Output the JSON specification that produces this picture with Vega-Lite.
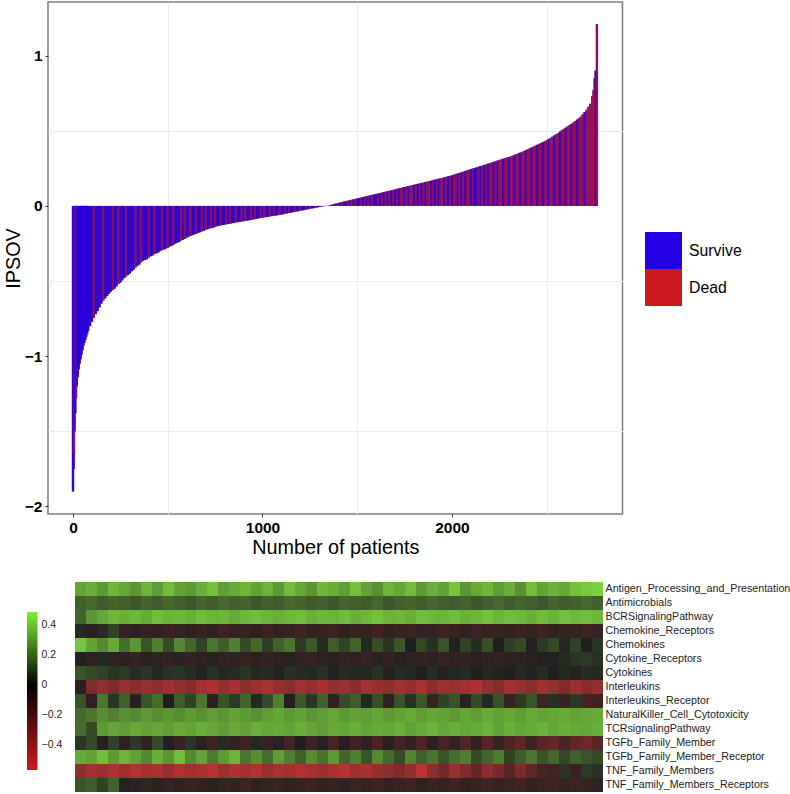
{"$schema":"https://vega.github.io/schema/vega-lite/v6.json","padding":{"left":2,"top":1,"right":0,"bottom":0},"background":"white","bounds":"flush","spacing":68,"config":{"font":"Liberation Sans","view":{"stroke":null}},
"datasets":{"bars":[
{"n":0,"v":-1.9,"s":"S"},{"n":3,"v":-1.75,"s":"S"},{"n":5,"v":-1.65,"s":"D"},{"n":8,"v":-1.5,"s":"S"},{"n":12,"v":-1.38,"s":"S"},{"n":16,"v":-1.28,"s":"D"},{"n":20,"v":-1.2,"s":"S"},{"n":25,"v":-1.14,"s":"S"},{"n":30,"v":-1.09,"s":"S"},{"n":35,"v":-1.05,"s":"S"},{"n":40,"v":-1.02,"s":"S"},{"n":45,"v":-0.99,"s":"S"},{"n":50,"v":-0.96,"s":"S"},{"n":55,"v":-0.93,"s":"S"},{"n":60,"v":-0.91,"s":"S"},{"n":65,"v":-0.89,"s":"S"},{"n":70,"v":-0.87,"s":"S"},{"n":75,"v":-0.85,"s":"S"},{"n":80,"v":-0.83,"s":"S"},{"n":90,"v":-0.8,"s":"S"},
{"n":100,"v":-0.77,"s":"S"},{"n":110,"v":-0.745,"s":"D"},{"n":120,"v":-0.72,"s":"S"},{"n":130,"v":-0.7,"s":"S"},{"n":140,"v":-0.675,"s":"S"},{"n":150,"v":-0.65,"s":"S"},{"n":160,"v":-0.63,"s":"D"},{"n":170,"v":-0.615,"s":"S"},{"n":180,"v":-0.6,"s":"S"},{"n":190,"v":-0.585,"s":"S"},{"n":200,"v":-0.57,"s":"S"},{"n":210,"v":-0.56,"s":"D"},{"n":220,"v":-0.55,"s":"S"},{"n":230,"v":-0.535,"s":"S"},{"n":240,"v":-0.52,"s":"D"},{"n":250,"v":-0.51,"s":"S"},{"n":260,"v":-0.495,"s":"S"},{"n":270,"v":-0.48,"s":"S"},{"n":280,"v":-0.47,"s":"D"},{"n":290,"v":-0.46,"s":"S"},{"n":300,"v":-0.45,"s":"S"},{"n":310,"v":-0.435,"s":"S"},{"n":320,"v":-0.425,"s":"S"},{"n":330,"v":-0.41,"s":"D"},{"n":340,"v":-0.4,"s":"S"},{"n":350,"v":-0.39,"s":"S"},{"n":360,"v":-0.375,"s":"D"},{"n":370,"v":-0.365,"s":"S"},{"n":380,"v":-0.36,"s":"S"},{"n":390,"v":-0.355,"s":"S"},{"n":400,"v":-0.345,"s":"D"},{"n":410,"v":-0.335,"s":"S"},{"n":420,"v":-0.33,"s":"S"},{"n":430,"v":-0.32,"s":"D"},{"n":440,"v":-0.315,"s":"S"},{"n":450,"v":-0.31,"s":"S"},{"n":460,"v":-0.3,"s":"S"},{"n":470,"v":-0.295,"s":"D"},{"n":480,"v":-0.29,"s":"S"},{"n":490,"v":-0.285,"s":"S"},{"n":500,"v":-0.28,"s":"D"},{"n":510,"v":-0.27,"s":"S"},{"n":520,"v":-0.265,"s":"S"},{"n":530,"v":-0.26,"s":"D"},{"n":540,"v":-0.25,"s":"S"},{"n":550,"v":-0.245,"s":"S"},{"n":560,"v":-0.24,"s":"S"},{"n":570,"v":-0.23,"s":"D"},{"n":580,"v":-0.225,"s":"S"},{"n":590,"v":-0.22,"s":"D"},{"n":600,"v":-0.21,"s":"S"},{"n":610,"v":-0.205,"s":"S"},{"n":620,"v":-0.2,"s":"D"},{"n":630,"v":-0.195,"s":"S"},{"n":640,"v":-0.19,"s":"S"},{"n":650,"v":-0.185,"s":"D"},{"n":660,"v":-0.18,"s":"S"},{"n":670,"v":-0.175,"s":"S"},{"n":680,"v":-0.17,"s":"D"},{"n":690,"v":-0.165,"s":"S"},{"n":700,"v":-0.16,"s":"D"},{"n":710,"v":-0.155,"s":"S"},{"n":720,"v":-0.15,"s":"S"},{"n":730,"v":-0.148,"s":"D"},{"n":740,"v":-0.145,"s":"S"},{"n":750,"v":-0.14,"s":"D"},{"n":760,"v":-0.135,"s":"S"},{"n":770,"v":-0.132,"s":"S"},{"n":780,"v":-0.13,"s":"D"},{"n":790,"v":-0.127,"s":"S"},{"n":800,"v":-0.125,"s":"S"},{"n":810,"v":-0.122,"s":"D"},{"n":820,"v":-0.12,"s":"S"},{"n":830,"v":-0.118,"s":"D"},{"n":840,"v":-0.115,"s":"S"},{"n":850,"v":-0.113,"s":"S"},{"n":860,"v":-0.11,"s":"D"},{"n":870,"v":-0.108,"s":"S"},{"n":880,"v":-0.106,"s":"S"},{"n":890,"v":-0.104,"s":"D"},{"n":900,"v":-0.102,"s":"S"},{"n":910,"v":-0.1,"s":"D"},{"n":920,"v":-0.098,"s":"S"},{"n":930,"v":-0.095,"s":"S"},{"n":940,"v":-0.093,"s":"D"},{"n":950,"v":-0.09,"s":"S"},{"n":960,"v":-0.088,"s":"D"},{"n":970,"v":-0.085,"s":"S"},{"n":980,"v":-0.083,"s":"S"},{"n":990,"v":-0.08,"s":"D"},{"n":1000,"v":-0.078,"s":"S"},{"n":1010,"v":-0.076,"s":"D"},{"n":1020,"v":-0.074,"s":"S"},{"n":1030,"v":-0.072,"s":"S"},{"n":1040,"v":-0.07,"s":"D"},{"n":1050,"v":-0.068,"s":"S"},{"n":1060,"v":-0.066,"s":"D"},{"n":1070,"v":-0.064,"s":"S"},{"n":1080,"v":-0.062,"s":"S"},{"n":1090,"v":-0.06,"s":"D"},{"n":1100,"v":-0.058,"s":"S"},{"n":1110,"v":-0.055,"s":"S"},{"n":1120,"v":-0.052,"s":"D"},{"n":1130,"v":-0.05,"s":"S"},{"n":1140,"v":-0.047,"s":"D"},{"n":1150,"v":-0.045,"s":"S"},{"n":1160,"v":-0.042,"s":"S"},{"n":1170,"v":-0.04,"s":"D"},{"n":1180,"v":-0.037,"s":"S"},{"n":1190,"v":-0.035,"s":"S"},{"n":1200,"v":-0.032,"s":"D"},{"n":1210,"v":-0.03,"s":"S"},{"n":1220,"v":-0.027,"s":"S"},{"n":1230,"v":-0.025,"s":"D"},{"n":1240,"v":-0.022,"s":"S"},{"n":1250,"v":-0.02,"s":"D"},{"n":1260,"v":-0.017,"s":"S"},{"n":1270,"v":-0.015,"s":"S"},{"n":1280,"v":-0.012,"s":"D"},{"n":1290,"v":-0.01,"s":"S"},{"n":1300,"v":-0.007,"s":"S"},{"n":1310,"v":-0.005,"s":"D"},{"n":1320,"v":-0.003,"s":"S"},{"n":1330,"v":-0.001,"s":"S"},{"n":1340,"v":0.001,"s":"S"},{"n":1350,"v":0.003,"s":"D"},{"n":1360,"v":0.006,"s":"S"},{"n":1370,"v":0.01,"s":"S"},{"n":1380,"v":0.014,"s":"D"},{"n":1390,"v":0.017,"s":"S"},{"n":1400,"v":0.02,"s":"D"},{"n":1410,"v":0.023,"s":"S"},{"n":1420,"v":0.026,"s":"D"},{"n":1430,"v":0.029,"s":"S"},{"n":1440,"v":0.032,"s":"S"},{"n":1450,"v":0.035,"s":"D"},{"n":1460,"v":0.038,"s":"S"},{"n":1470,"v":0.041,"s":"D"},{"n":1480,"v":0.044,"s":"S"},{"n":1490,"v":0.047,"s":"D"},{"n":1500,"v":0.05,"s":"S"},{"n":1510,"v":0.053,"s":"S"},{"n":1520,"v":0.056,"s":"D"},{"n":1530,"v":0.059,"s":"S"},{"n":1540,"v":0.062,"s":"D"},{"n":1550,"v":0.065,"s":"S"},{"n":1560,"v":0.068,"s":"D"},{"n":1570,"v":0.071,"s":"S"},{"n":1580,"v":0.074,"s":"D"},{"n":1590,"v":0.077,"s":"S"},{"n":1600,"v":0.08,"s":"S"},{"n":1610,"v":0.083,"s":"D"},{"n":1620,"v":0.086,"s":"S"},{"n":1630,"v":0.089,"s":"D"},{"n":1640,"v":0.092,"s":"S"},{"n":1650,"v":0.095,"s":"D"},{"n":1660,"v":0.098,"s":"S"},{"n":1670,"v":0.101,"s":"D"},{"n":1680,"v":0.104,"s":"S"},{"n":1690,"v":0.107,"s":"D"},{"n":1700,"v":0.11,"s":"S"},{"n":1710,"v":0.114,"s":"D"},{"n":1720,"v":0.117,"s":"S"},{"n":1730,"v":0.12,"s":"D"},{"n":1740,"v":0.123,"s":"D"},{"n":1750,"v":0.126,"s":"S"},{"n":1760,"v":0.129,"s":"D"},{"n":1770,"v":0.132,"s":"S"},{"n":1780,"v":0.135,"s":"D"},{"n":1790,"v":0.138,"s":"D"},{"n":1800,"v":0.141,"s":"S"},{"n":1810,"v":0.144,"s":"D"},{"n":1820,"v":0.147,"s":"S"},{"n":1830,"v":0.15,"s":"D"},{"n":1840,"v":0.153,"s":"S"},{"n":1850,"v":0.156,"s":"D"},{"n":1860,"v":0.159,"s":"S"},{"n":1870,"v":0.162,"s":"D"},{"n":1880,"v":0.165,"s":"D"},{"n":1890,"v":0.168,"s":"S"},{"n":1900,"v":0.172,"s":"D"},{"n":1910,"v":0.175,"s":"S"},{"n":1920,"v":0.178,"s":"D"},{"n":1930,"v":0.181,"s":"S"},{"n":1940,"v":0.184,"s":"D"},{"n":1950,"v":0.187,"s":"D"},{"n":1960,"v":0.19,"s":"S"},{"n":1970,"v":0.194,"s":"D"},{"n":1980,"v":0.197,"s":"S"},{"n":1990,"v":0.2,"s":"D"},{"n":2000,"v":0.204,"s":"S"},{"n":2010,"v":0.208,"s":"D"},{"n":2020,"v":0.212,"s":"D"},{"n":2030,"v":0.216,"s":"S"},{"n":2040,"v":0.22,"s":"D"},{"n":2050,"v":0.224,"s":"S"},{"n":2060,"v":0.228,"s":"D"},{"n":2070,"v":0.233,"s":"S"},{"n":2080,"v":0.237,"s":"D"},{"n":2090,"v":0.241,"s":"D"},{"n":2100,"v":0.245,"s":"S"},{"n":2110,"v":0.249,"s":"D"},{"n":2120,"v":0.253,"s":"S"},{"n":2130,"v":0.257,"s":"S"},{"n":2140,"v":0.261,"s":"D"},{"n":2150,"v":0.265,"s":"S"},{"n":2160,"v":0.269,"s":"D"},{"n":2170,"v":0.273,"s":"S"},{"n":2180,"v":0.277,"s":"D"},{"n":2190,"v":0.281,"s":"S"},{"n":2200,"v":0.285,"s":"D"},{"n":2210,"v":0.289,"s":"D"},{"n":2220,"v":0.293,"s":"S"},{"n":2230,"v":0.298,"s":"D"},{"n":2240,"v":0.302,"s":"S"},{"n":2250,"v":0.306,"s":"D"},{"n":2260,"v":0.31,"s":"D"},{"n":2270,"v":0.314,"s":"S"},{"n":2280,"v":0.318,"s":"D"},{"n":2290,"v":0.322,"s":"D"},{"n":2300,"v":0.326,"s":"S"},{"n":2310,"v":0.33,"s":"D"},{"n":2320,"v":0.334,"s":"D"},{"n":2330,"v":0.34,"s":"S"},{"n":2340,"v":0.345,"s":"D"},{"n":2350,"v":0.35,"s":"D"},{"n":2360,"v":0.355,"s":"S"},{"n":2370,"v":0.36,"s":"D"},{"n":2380,"v":0.365,"s":"D"},{"n":2390,"v":0.371,"s":"S"},{"n":2400,"v":0.377,"s":"D"},{"n":2410,"v":0.383,"s":"D"},{"n":2420,"v":0.389,"s":"S"},{"n":2430,"v":0.395,"s":"D"},{"n":2440,"v":0.401,"s":"D"},{"n":2450,"v":0.407,"s":"S"},{"n":2460,"v":0.413,"s":"D"},{"n":2470,"v":0.419,"s":"D"},{"n":2480,"v":0.425,"s":"S"},{"n":2490,"v":0.431,"s":"D"},{"n":2500,"v":0.437,"s":"D"},{"n":2510,"v":0.445,"s":"S"},{"n":2520,"v":0.453,"s":"D"},{"n":2530,"v":0.461,"s":"D"},{"n":2540,"v":0.469,"s":"S"},{"n":2550,"v":0.477,"s":"D"},{"n":2560,"v":0.485,"s":"D"},{"n":2570,"v":0.495,"s":"S"},{"n":2580,"v":0.505,"s":"D"},{"n":2590,"v":0.513,"s":"D"},{"n":2600,"v":0.521,"s":"S"},{"n":2610,"v":0.53,"s":"D"},{"n":2620,"v":0.537,"s":"D"},{"n":2630,"v":0.546,"s":"S"},{"n":2640,"v":0.555,"s":"D"},{"n":2650,"v":0.565,"s":"D"},{"n":2660,"v":0.575,"s":"S"},{"n":2670,"v":0.585,"s":"D"},{"n":2680,"v":0.595,"s":"D"},{"n":2690,"v":0.61,"s":"D"},{"n":2700,"v":0.625,"s":"S"},{"n":2710,"v":0.64,"s":"D"},{"n":2720,"v":0.66,"s":"D"},{"n":2730,"v":0.68,"s":"D"},{"n":2740,"v":0.73,"s":"D"},{"n":2747,"v":0.77,"s":"D"},{"n":2753,"v":0.85,"s":"D"},{"n":2758,"v":0.9,"s":"S"},{"n":2765,"v":1.21,"s":"D"}
],
"heat":[
{"c":1,"r":1,"v":0.3},{"c":2,"r":1,"v":0.33},{"c":3,"r":1,"v":0.28},{"c":4,"r":1,"v":0.35},{"c":5,"r":1,"v":0.31},{"c":6,"r":1,"v":0.27},{"c":7,"r":1,"v":0.34},{"c":8,"r":1,"v":0.29},{"c":9,"r":1,"v":0.36},{"c":10,"r":1,"v":0.3},{"c":11,"r":1,"v":0.28},{"c":12,"r":1,"v":0.33},{"c":13,"r":1,"v":0.37},{"c":14,"r":1,"v":0.29},{"c":15,"r":1,"v":0.32},{"c":16,"r":1,"v":0.35},{"c":17,"r":1,"v":0.3},{"c":18,"r":1,"v":0.34},{"c":19,"r":1,"v":0.28},{"c":20,"r":1,"v":0.36},{"c":21,"r":1,"v":0.31},{"c":22,"r":1,"v":0.27},{"c":23,"r":1,"v":0.35},{"c":24,"r":1,"v":0.33},{"c":25,"r":1,"v":0.29},{"c":26,"r":1,"v":0.37},{"c":27,"r":1,"v":0.3},{"c":28,"r":1,"v":0.26},{"c":29,"r":1,"v":0.34},{"c":30,"r":1,"v":0.31},{"c":31,"r":1,"v":0.36},{"c":32,"r":1,"v":0.28},{"c":33,"r":1,"v":0.33},{"c":34,"r":1,"v":0.3},{"c":35,"r":1,"v":0.38},{"c":36,"r":1,"v":0.27},{"c":37,"r":1,"v":0.32},{"c":38,"r":1,"v":0.35},{"c":39,"r":1,"v":0.29},{"c":40,"r":1,"v":0.33},{"c":41,"r":1,"v":0.26},{"c":42,"r":1,"v":0.36},{"c":43,"r":1,"v":0.3},{"c":44,"r":1,"v":0.34},{"c":45,"r":1,"v":0.31},{"c":46,"r":1,"v":0.37},{"c":47,"r":1,"v":0.39},{"c":48,"r":1,"v":0.41},
{"c":1,"r":2,"v":0.15},{"c":2,"r":2,"v":0.17},{"c":3,"r":2,"v":0.14},{"c":4,"r":2,"v":0.16},{"c":5,"r":2,"v":0.15},{"c":6,"r":2,"v":0.13},{"c":7,"r":2,"v":0.16},{"c":8,"r":2,"v":0.14},{"c":9,"r":2,"v":0.17},{"c":10,"r":2,"v":0.15},{"c":11,"r":2,"v":0.13},{"c":12,"r":2,"v":0.16},{"c":13,"r":2,"v":0.14},{"c":14,"r":2,"v":0.17},{"c":15,"r":2,"v":0.15},{"c":16,"r":2,"v":0.16},{"c":17,"r":2,"v":0.13},{"c":18,"r":2,"v":0.15},{"c":19,"r":2,"v":0.14},{"c":20,"r":2,"v":0.17},{"c":21,"r":2,"v":0.16},{"c":22,"r":2,"v":0.14},{"c":23,"r":2,"v":0.15},{"c":24,"r":2,"v":0.13},{"c":25,"r":2,"v":0.16},{"c":26,"r":2,"v":0.15},{"c":27,"r":2,"v":0.14},{"c":28,"r":2,"v":0.17},{"c":29,"r":2,"v":0.13},{"c":30,"r":2,"v":0.15},{"c":31,"r":2,"v":0.16},{"c":32,"r":2,"v":0.14},{"c":33,"r":2,"v":0.17},{"c":34,"r":2,"v":0.15},{"c":35,"r":2,"v":0.14},{"c":36,"r":2,"v":0.16},{"c":37,"r":2,"v":0.13},{"c":38,"r":2,"v":0.15},{"c":39,"r":2,"v":0.17},{"c":40,"r":2,"v":0.14},{"c":41,"r":2,"v":0.16},{"c":42,"r":2,"v":0.15},{"c":43,"r":2,"v":0.13},{"c":44,"r":2,"v":0.16},{"c":45,"r":2,"v":0.14},{"c":46,"r":2,"v":0.15},{"c":47,"r":2,"v":0.17},{"c":48,"r":2,"v":0.15},
{"c":1,"r":3,"v":0.16},{"c":2,"r":3,"v":0.27},{"c":3,"r":3,"v":0.31},{"c":4,"r":3,"v":0.35},{"c":5,"r":3,"v":0.33},{"c":6,"r":3,"v":0.35},{"c":7,"r":3,"v":0.32},{"c":8,"r":3,"v":0.36},{"c":9,"r":3,"v":0.34},{"c":10,"r":3,"v":0.35},{"c":11,"r":3,"v":0.33},{"c":12,"r":3,"v":0.36},{"c":13,"r":3,"v":0.34},{"c":14,"r":3,"v":0.35},{"c":15,"r":3,"v":0.32},{"c":16,"r":3,"v":0.35},{"c":17,"r":3,"v":0.36},{"c":18,"r":3,"v":0.34},{"c":19,"r":3,"v":0.33},{"c":20,"r":3,"v":0.35},{"c":21,"r":3,"v":0.36},{"c":22,"r":3,"v":0.33},{"c":23,"r":3,"v":0.35},{"c":24,"r":3,"v":0.34},{"c":25,"r":3,"v":0.36},{"c":26,"r":3,"v":0.33},{"c":27,"r":3,"v":0.35},{"c":28,"r":3,"v":0.37},{"c":29,"r":3,"v":0.34},{"c":30,"r":3,"v":0.35},{"c":31,"r":3,"v":0.33},{"c":32,"r":3,"v":0.36},{"c":33,"r":3,"v":0.35},{"c":34,"r":3,"v":0.34},{"c":35,"r":3,"v":0.36},{"c":36,"r":3,"v":0.33},{"c":37,"r":3,"v":0.35},{"c":38,"r":3,"v":0.37},{"c":39,"r":3,"v":0.34},{"c":40,"r":3,"v":0.36},{"c":41,"r":3,"v":0.35},{"c":42,"r":3,"v":0.33},{"c":43,"r":3,"v":0.36},{"c":44,"r":3,"v":0.34},{"c":45,"r":3,"v":0.37},{"c":46,"r":3,"v":0.35},{"c":47,"r":3,"v":0.36},{"c":48,"r":3,"v":0.35},
{"c":1,"r":4,"v":0.02},{"c":2,"r":4,"v":-0.03},{"c":3,"r":4,"v":0.03},{"c":4,"r":4,"v":0.08},{"c":5,"r":4,"v":-0.07},{"c":6,"r":4,"v":-0.05},{"c":7,"r":4,"v":-0.08},{"c":8,"r":4,"v":-0.06},{"c":9,"r":4,"v":-0.09},{"c":10,"r":4,"v":-0.07},{"c":11,"r":4,"v":-0.05},{"c":12,"r":4,"v":-0.08},{"c":13,"r":4,"v":-0.06},{"c":14,"r":4,"v":-0.1},{"c":15,"r":4,"v":-0.07},{"c":16,"r":4,"v":-0.08},{"c":17,"r":4,"v":-0.05},{"c":18,"r":4,"v":-0.09},{"c":19,"r":4,"v":-0.06},{"c":20,"r":4,"v":-0.08},{"c":21,"r":4,"v":-0.1},{"c":22,"r":4,"v":-0.06},{"c":23,"r":4,"v":-0.07},{"c":24,"r":4,"v":-0.09},{"c":25,"r":4,"v":-0.05},{"c":26,"r":4,"v":-0.08},{"c":27,"r":4,"v":-0.07},{"c":28,"r":4,"v":-0.1},{"c":29,"r":4,"v":-0.06},{"c":30,"r":4,"v":-0.08},{"c":31,"r":4,"v":-0.09},{"c":32,"r":4,"v":-0.06},{"c":33,"r":4,"v":-0.07},{"c":34,"r":4,"v":-0.1},{"c":35,"r":4,"v":-0.08},{"c":36,"r":4,"v":-0.05},{"c":37,"r":4,"v":-0.09},{"c":38,"r":4,"v":-0.07},{"c":39,"r":4,"v":-0.08},{"c":40,"r":4,"v":-0.06},{"c":41,"r":4,"v":-0.09},{"c":42,"r":4,"v":-0.07},{"c":43,"r":4,"v":-0.1},{"c":44,"r":4,"v":-0.06},{"c":45,"r":4,"v":-0.08},{"c":46,"r":4,"v":-0.07},{"c":47,"r":4,"v":-0.09},{"c":48,"r":4,"v":-0.07},
{"c":1,"r":5,"v":0.38},{"c":2,"r":5,"v":0.3},{"c":3,"r":5,"v":0.24},{"c":4,"r":5,"v":0.32},{"c":5,"r":5,"v":0.18},{"c":6,"r":5,"v":0.27},{"c":7,"r":5,"v":0.12},{"c":8,"r":5,"v":0.22},{"c":9,"r":5,"v":0.1},{"c":10,"r":5,"v":0.24},{"c":11,"r":5,"v":0.16},{"c":12,"r":5,"v":0.08},{"c":13,"r":5,"v":0.2},{"c":14,"r":5,"v":0.14},{"c":15,"r":5,"v":0.22},{"c":16,"r":5,"v":0.1},{"c":17,"r":5,"v":0.17},{"c":18,"r":5,"v":0.07},{"c":19,"r":5,"v":0.15},{"c":20,"r":5,"v":0.2},{"c":21,"r":5,"v":0.06},{"c":22,"r":5,"v":0.13},{"c":23,"r":5,"v":0.03},{"c":24,"r":5,"v":0.14},{"c":25,"r":5,"v":0.08},{"c":26,"r":5,"v":0.16},{"c":27,"r":5,"v":0.02},{"c":28,"r":5,"v":0.11},{"c":29,"r":5,"v":0.05},{"c":30,"r":5,"v":0.13},{"c":31,"r":5,"v":0},{"c":32,"r":5,"v":0.09},{"c":33,"r":5,"v":0.04},{"c":34,"r":5,"v":0.12},{"c":35,"r":5,"v":-0.02},{"c":36,"r":5,"v":0.08},{"c":37,"r":5,"v":0.03},{"c":38,"r":5,"v":0.11},{"c":39,"r":5,"v":0},{"c":40,"r":5,"v":0.07},{"c":41,"r":5,"v":0.1},{"c":42,"r":5,"v":-0.02},{"c":43,"r":5,"v":0.06},{"c":44,"r":5,"v":0.1},{"c":45,"r":5,"v":0.02},{"c":46,"r":5,"v":0.08},{"c":47,"r":5,"v":-0.01},{"c":48,"r":5,"v":0.05},
{"c":1,"r":6,"v":-0.02},{"c":2,"r":6,"v":-0.05},{"c":3,"r":6,"v":0.02},{"c":4,"r":6,"v":-0.05},{"c":5,"r":6,"v":-0.04},{"c":6,"r":6,"v":-0.06},{"c":7,"r":6,"v":-0.03},{"c":8,"r":6,"v":-0.05},{"c":9,"r":6,"v":-0.06},{"c":10,"r":6,"v":-0.04},{"c":11,"r":6,"v":-0.07},{"c":12,"r":6,"v":-0.05},{"c":13,"r":6,"v":-0.03},{"c":14,"r":6,"v":-0.06},{"c":15,"r":6,"v":-0.05},{"c":16,"r":6,"v":-0.07},{"c":17,"r":6,"v":-0.04},{"c":18,"r":6,"v":-0.06},{"c":19,"r":6,"v":-0.05},{"c":20,"r":6,"v":-0.03},{"c":21,"r":6,"v":-0.06},{"c":22,"r":6,"v":-0.07},{"c":23,"r":6,"v":-0.05},{"c":24,"r":6,"v":-0.04},{"c":25,"r":6,"v":-0.06},{"c":26,"r":6,"v":-0.05},{"c":27,"r":6,"v":-0.07},{"c":28,"r":6,"v":-0.04},{"c":29,"r":6,"v":-0.06},{"c":30,"r":6,"v":-0.03},{"c":31,"r":6,"v":-0.05},{"c":32,"r":6,"v":-0.06},{"c":33,"r":6,"v":-0.04},{"c":34,"r":6,"v":-0.07},{"c":35,"r":6,"v":-0.05},{"c":36,"r":6,"v":-0.06},{"c":37,"r":6,"v":-0.03},{"c":38,"r":6,"v":-0.05},{"c":39,"r":6,"v":-0.06},{"c":40,"r":6,"v":-0.04},{"c":41,"r":6,"v":-0.05},{"c":42,"r":6,"v":-0.03},{"c":43,"r":6,"v":-0.02},{"c":44,"r":6,"v":0.01},{"c":45,"r":6,"v":0.03},{"c":46,"r":6,"v":0.05},{"c":47,"r":6,"v":0.06},{"c":48,"r":6,"v":0.04},
{"c":1,"r":7,"v":0.12},{"c":2,"r":7,"v":0.1},{"c":3,"r":7,"v":0.08},{"c":4,"r":7,"v":0.05},{"c":5,"r":7,"v":0.06},{"c":6,"r":7,"v":0.03},{"c":7,"r":7,"v":0.05},{"c":8,"r":7,"v":0.02},{"c":9,"r":7,"v":0.04},{"c":10,"r":7,"v":0.05},{"c":11,"r":7,"v":0.03},{"c":12,"r":7,"v":0.01},{"c":13,"r":7,"v":0.04},{"c":14,"r":7,"v":0.02},{"c":15,"r":7,"v":0.03},{"c":16,"r":7,"v":0.05},{"c":17,"r":7,"v":0.02},{"c":18,"r":7,"v":0.03},{"c":19,"r":7,"v":0.01},{"c":20,"r":7,"v":0.04},{"c":21,"r":7,"v":0.03},{"c":22,"r":7,"v":0.02},{"c":23,"r":7,"v":0.04},{"c":24,"r":7,"v":0.01},{"c":25,"r":7,"v":0.03},{"c":26,"r":7,"v":0.02},{"c":27,"r":7,"v":0.02},{"c":28,"r":7,"v":0.04},{"c":29,"r":7,"v":0.01},{"c":30,"r":7,"v":0.03},{"c":31,"r":7,"v":0.02},{"c":32,"r":7,"v":0},{"c":33,"r":7,"v":0.03},{"c":34,"r":7,"v":0.01},{"c":35,"r":7,"v":0.02},{"c":36,"r":7,"v":0.03},{"c":37,"r":7,"v":0},{"c":38,"r":7,"v":0.02},{"c":39,"r":7,"v":0.01},{"c":40,"r":7,"v":0},{"c":41,"r":7,"v":0.02},{"c":42,"r":7,"v":0.01},{"c":43,"r":7,"v":0.03},{"c":44,"r":7,"v":0},{"c":45,"r":7,"v":0.02},{"c":46,"r":7,"v":0.01},{"c":47,"r":7,"v":0.03},{"c":48,"r":7,"v":0.02},
{"c":1,"r":8,"v":-0.03},{"c":2,"r":8,"v":-0.3},{"c":3,"r":8,"v":-0.36},{"c":4,"r":8,"v":-0.3},{"c":5,"r":8,"v":-0.38},{"c":6,"r":8,"v":-0.33},{"c":7,"r":8,"v":-0.38},{"c":8,"r":8,"v":-0.35},{"c":9,"r":8,"v":-0.4},{"c":10,"r":8,"v":-0.36},{"c":11,"r":8,"v":-0.32},{"c":12,"r":8,"v":-0.42},{"c":13,"r":8,"v":-0.45},{"c":14,"r":8,"v":-0.37},{"c":15,"r":8,"v":-0.42},{"c":16,"r":8,"v":-0.35},{"c":17,"r":8,"v":-0.4},{"c":18,"r":8,"v":-0.44},{"c":19,"r":8,"v":-0.38},{"c":20,"r":8,"v":-0.34},{"c":21,"r":8,"v":-0.41},{"c":22,"r":8,"v":-0.37},{"c":23,"r":8,"v":-0.43},{"c":24,"r":8,"v":-0.36},{"c":25,"r":8,"v":-0.4},{"c":26,"r":8,"v":-0.33},{"c":27,"r":8,"v":-0.42},{"c":28,"r":8,"v":-0.38},{"c":29,"r":8,"v":-0.35},{"c":30,"r":8,"v":-0.41},{"c":31,"r":8,"v":-0.37},{"c":32,"r":8,"v":-0.44},{"c":33,"r":8,"v":-0.34},{"c":34,"r":8,"v":-0.4},{"c":35,"r":8,"v":-0.38},{"c":36,"r":8,"v":-0.42},{"c":37,"r":8,"v":-0.45},{"c":38,"r":8,"v":-0.36},{"c":39,"r":8,"v":-0.32},{"c":40,"r":8,"v":-0.42},{"c":41,"r":8,"v":-0.38},{"c":42,"r":8,"v":-0.34},{"c":43,"r":8,"v":-0.41},{"c":44,"r":8,"v":-0.36},{"c":45,"r":8,"v":-0.3},{"c":46,"r":8,"v":-0.39},{"c":47,"r":8,"v":-0.33},{"c":48,"r":8,"v":-0.37},
{"c":1,"r":9,"v":0.12},{"c":2,"r":9,"v":-0.05},{"c":3,"r":9,"v":0.2},{"c":4,"r":9,"v":0.05},{"c":5,"r":9,"v":0.15},{"c":6,"r":9,"v":-0.03},{"c":7,"r":9,"v":0.12},{"c":8,"r":9,"v":0.18},{"c":9,"r":9,"v":0},{"c":10,"r":9,"v":0.14},{"c":11,"r":9,"v":0.08},{"c":12,"r":9,"v":0.2},{"c":13,"r":9,"v":-0.04},{"c":14,"r":9,"v":0.12},{"c":15,"r":9,"v":0.06},{"c":16,"r":9,"v":0.16},{"c":17,"r":9,"v":0.02},{"c":18,"r":9,"v":0.1},{"c":19,"r":9,"v":0.22},{"c":20,"r":9,"v":-0.02},{"c":21,"r":9,"v":0.13},{"c":22,"r":9,"v":0.05},{"c":23,"r":9,"v":0.15},{"c":24,"r":9,"v":-0.06},{"c":25,"r":9,"v":0.1},{"c":26,"r":9,"v":0.14},{"c":27,"r":9,"v":0.02},{"c":28,"r":9,"v":0.11},{"c":29,"r":9,"v":-0.05},{"c":30,"r":9,"v":0.12},{"c":31,"r":9,"v":0.04},{"c":32,"r":9,"v":0.13},{"c":33,"r":9,"v":-0.08},{"c":34,"r":9,"v":0.08},{"c":35,"r":9,"v":0.12},{"c":36,"r":9,"v":-0.04},{"c":37,"r":9,"v":0.1},{"c":38,"r":9,"v":0.02},{"c":39,"r":9,"v":0.11},{"c":40,"r":9,"v":-0.08},{"c":41,"r":9,"v":0.06},{"c":42,"r":9,"v":0.12},{"c":43,"r":9,"v":-0.1},{"c":44,"r":9,"v":0.04},{"c":45,"r":9,"v":-0.08},{"c":46,"r":9,"v":0.06},{"c":47,"r":9,"v":-0.12},{"c":48,"r":9,"v":-0.1},
{"c":1,"r":10,"v":0.17},{"c":2,"r":10,"v":0.2},{"c":3,"r":10,"v":0.25},{"c":4,"r":10,"v":0.22},{"c":5,"r":10,"v":0.26},{"c":6,"r":10,"v":0.24},{"c":7,"r":10,"v":0.28},{"c":8,"r":10,"v":0.25},{"c":9,"r":10,"v":0.27},{"c":10,"r":10,"v":0.25},{"c":11,"r":10,"v":0.28},{"c":12,"r":10,"v":0.26},{"c":13,"r":10,"v":0.29},{"c":14,"r":10,"v":0.27},{"c":15,"r":10,"v":0.3},{"c":16,"r":10,"v":0.28},{"c":17,"r":10,"v":0.26},{"c":18,"r":10,"v":0.29},{"c":19,"r":10,"v":0.31},{"c":20,"r":10,"v":0.28},{"c":21,"r":10,"v":0.3},{"c":22,"r":10,"v":0.27},{"c":23,"r":10,"v":0.29},{"c":24,"r":10,"v":0.31},{"c":25,"r":10,"v":0.28},{"c":26,"r":10,"v":0.3},{"c":27,"r":10,"v":0.29},{"c":28,"r":10,"v":0.31},{"c":29,"r":10,"v":0.28},{"c":30,"r":10,"v":0.3},{"c":31,"r":10,"v":0.32},{"c":32,"r":10,"v":0.29},{"c":33,"r":10,"v":0.31},{"c":34,"r":10,"v":0.3},{"c":35,"r":10,"v":0.28},{"c":36,"r":10,"v":0.31},{"c":37,"r":10,"v":0.29},{"c":38,"r":10,"v":0.32},{"c":39,"r":10,"v":0.3},{"c":40,"r":10,"v":0.31},{"c":41,"r":10,"v":0.29},{"c":42,"r":10,"v":0.32},{"c":43,"r":10,"v":0.3},{"c":44,"r":10,"v":0.31},{"c":45,"r":10,"v":0.32},{"c":46,"r":10,"v":0.3},{"c":47,"r":10,"v":0.31},{"c":48,"r":10,"v":0.32},
{"c":1,"r":11,"v":0.18},{"c":2,"r":11,"v":0.1},{"c":3,"r":11,"v":0.28},{"c":4,"r":11,"v":0.31},{"c":5,"r":11,"v":0.29},{"c":6,"r":11,"v":0.32},{"c":7,"r":11,"v":0.3},{"c":8,"r":11,"v":0.31},{"c":9,"r":11,"v":0.29},{"c":10,"r":11,"v":0.32},{"c":11,"r":11,"v":0.3},{"c":12,"r":11,"v":0.33},{"c":13,"r":11,"v":0.31},{"c":14,"r":11,"v":0.29},{"c":15,"r":11,"v":0.32},{"c":16,"r":11,"v":0.3},{"c":17,"r":11,"v":0.33},{"c":18,"r":11,"v":0.31},{"c":19,"r":11,"v":0.32},{"c":20,"r":11,"v":0.3},{"c":21,"r":11,"v":0.33},{"c":22,"r":11,"v":0.31},{"c":23,"r":11,"v":0.29},{"c":24,"r":11,"v":0.32},{"c":25,"r":11,"v":0.31},{"c":26,"r":11,"v":0.33},{"c":27,"r":11,"v":0.3},{"c":28,"r":11,"v":0.32},{"c":29,"r":11,"v":0.31},{"c":30,"r":11,"v":0.33},{"c":31,"r":11,"v":0.3},{"c":32,"r":11,"v":0.32},{"c":33,"r":11,"v":0.34},{"c":34,"r":11,"v":0.31},{"c":35,"r":11,"v":0.33},{"c":36,"r":11,"v":0.31},{"c":37,"r":11,"v":0.32},{"c":38,"r":11,"v":0.34},{"c":39,"r":11,"v":0.3},{"c":40,"r":11,"v":0.33},{"c":41,"r":11,"v":0.31},{"c":42,"r":11,"v":0.32},{"c":43,"r":11,"v":0.34},{"c":44,"r":11,"v":0.31},{"c":45,"r":11,"v":0.33},{"c":46,"r":11,"v":0.32},{"c":47,"r":11,"v":0.31},{"c":48,"r":11,"v":0.33},
{"c":1,"r":12,"v":0.05},{"c":2,"r":12,"v":0.1},{"c":3,"r":12,"v":-0.03},{"c":4,"r":12,"v":0.08},{"c":5,"r":12,"v":-0.05},{"c":6,"r":12,"v":0.06},{"c":7,"r":12,"v":-0.06},{"c":8,"r":12,"v":0.1},{"c":9,"r":12,"v":-0.02},{"c":10,"r":12,"v":-0.08},{"c":11,"r":12,"v":0.05},{"c":12,"r":12,"v":-0.04},{"c":13,"r":12,"v":-0.1},{"c":14,"r":12,"v":0.03},{"c":15,"r":12,"v":-0.06},{"c":16,"r":12,"v":-0.1},{"c":17,"r":12,"v":0.02},{"c":18,"r":12,"v":-0.08},{"c":19,"r":12,"v":-0.04},{"c":20,"r":12,"v":-0.12},{"c":21,"r":12,"v":0},{"c":22,"r":12,"v":-0.09},{"c":23,"r":12,"v":-0.03},{"c":24,"r":12,"v":-0.13},{"c":25,"r":12,"v":-0.02},{"c":26,"r":12,"v":-0.1},{"c":27,"r":12,"v":-0.05},{"c":28,"r":12,"v":-0.14},{"c":29,"r":12,"v":-0.03},{"c":30,"r":12,"v":-0.12},{"c":31,"r":12,"v":-0.06},{"c":32,"r":12,"v":-0.15},{"c":33,"r":12,"v":-0.04},{"c":34,"r":12,"v":-0.13},{"c":35,"r":12,"v":-0.07},{"c":36,"r":12,"v":-0.16},{"c":37,"r":12,"v":-0.05},{"c":38,"r":12,"v":-0.18},{"c":39,"r":12,"v":-0.08},{"c":40,"r":12,"v":-0.15},{"c":41,"r":12,"v":-0.2},{"c":42,"r":12,"v":-0.1},{"c":43,"r":12,"v":-0.18},{"c":44,"r":12,"v":-0.22},{"c":45,"r":12,"v":-0.14},{"c":46,"r":12,"v":-0.2},{"c":47,"r":12,"v":-0.24},{"c":48,"r":12,"v":-0.18},
{"c":1,"r":13,"v":0.32},{"c":2,"r":13,"v":0.3},{"c":3,"r":13,"v":0.36},{"c":4,"r":13,"v":0.28},{"c":5,"r":13,"v":0.34},{"c":6,"r":13,"v":0.3},{"c":7,"r":13,"v":0.24},{"c":8,"r":13,"v":0.33},{"c":9,"r":13,"v":0.27},{"c":10,"r":13,"v":0.36},{"c":11,"r":13,"v":0.24},{"c":12,"r":13,"v":0.3},{"c":13,"r":13,"v":0.21},{"c":14,"r":13,"v":0.28},{"c":15,"r":13,"v":0.34},{"c":16,"r":13,"v":0.2},{"c":17,"r":13,"v":0.26},{"c":18,"r":13,"v":0.18},{"c":19,"r":13,"v":0.29},{"c":20,"r":13,"v":0.22},{"c":21,"r":13,"v":0.15},{"c":22,"r":13,"v":0.25},{"c":23,"r":13,"v":0.19},{"c":24,"r":13,"v":0.28},{"c":25,"r":13,"v":0.16},{"c":26,"r":13,"v":0.22},{"c":27,"r":13,"v":0.12},{"c":28,"r":13,"v":0.24},{"c":29,"r":13,"v":0.17},{"c":30,"r":13,"v":0.1},{"c":31,"r":13,"v":0.23},{"c":32,"r":13,"v":0.15},{"c":33,"r":13,"v":0.2},{"c":34,"r":13,"v":0.12},{"c":35,"r":13,"v":0.18},{"c":36,"r":13,"v":0.22},{"c":37,"r":13,"v":0.1},{"c":38,"r":13,"v":0.16},{"c":39,"r":13,"v":0.21},{"c":40,"r":13,"v":0.08},{"c":41,"r":13,"v":0.14},{"c":42,"r":13,"v":0.2},{"c":43,"r":13,"v":0.12},{"c":44,"r":13,"v":0.17},{"c":45,"r":13,"v":0.09},{"c":46,"r":13,"v":0.15},{"c":47,"r":13,"v":0.12},{"c":48,"r":13,"v":0.1},
{"c":1,"r":14,"v":-0.35},{"c":2,"r":14,"v":-0.42},{"c":3,"r":14,"v":-0.38},{"c":4,"r":14,"v":-0.45},{"c":5,"r":14,"v":-0.4},{"c":6,"r":14,"v":-0.47},{"c":7,"r":14,"v":-0.42},{"c":8,"r":14,"v":-0.44},{"c":9,"r":14,"v":-0.38},{"c":10,"r":14,"v":-0.46},{"c":11,"r":14,"v":-0.41},{"c":12,"r":14,"v":-0.44},{"c":13,"r":14,"v":-0.48},{"c":14,"r":14,"v":-0.4},{"c":15,"r":14,"v":-0.45},{"c":16,"r":14,"v":-0.42},{"c":17,"r":14,"v":-0.47},{"c":18,"r":14,"v":-0.38},{"c":19,"r":14,"v":-0.44},{"c":20,"r":14,"v":-0.41},{"c":21,"r":14,"v":-0.46},{"c":22,"r":14,"v":-0.43},{"c":23,"r":14,"v":-0.39},{"c":24,"r":14,"v":-0.45},{"c":25,"r":14,"v":-0.48},{"c":26,"r":14,"v":-0.4},{"c":27,"r":14,"v":-0.44},{"c":28,"r":14,"v":-0.37},{"c":29,"r":14,"v":-0.34},{"c":30,"r":14,"v":-0.3},{"c":31,"r":14,"v":-0.36},{"c":32,"r":14,"v":-0.5},{"c":33,"r":14,"v":-0.34},{"c":34,"r":14,"v":-0.26},{"c":35,"r":14,"v":-0.38},{"c":36,"r":14,"v":-0.3},{"c":37,"r":14,"v":-0.22},{"c":38,"r":14,"v":-0.34},{"c":39,"r":14,"v":-0.28},{"c":40,"r":14,"v":-0.18},{"c":41,"r":14,"v":-0.3},{"c":42,"r":14,"v":-0.2},{"c":43,"r":14,"v":-0.12},{"c":44,"r":14,"v":-0.1},{"c":45,"r":14,"v":0.05},{"c":46,"r":14,"v":-0.08},{"c":47,"r":14,"v":0.06},{"c":48,"r":14,"v":0.04},
{"c":1,"r":15,"v":0.12},{"c":2,"r":15,"v":0.14},{"c":3,"r":15,"v":0.08},{"c":4,"r":15,"v":0.15},{"c":5,"r":15,"v":-0.03},{"c":6,"r":15,"v":-0.05},{"c":7,"r":15,"v":-0.07},{"c":8,"r":15,"v":-0.04},{"c":9,"r":15,"v":-0.08},{"c":10,"r":15,"v":-0.05},{"c":11,"r":15,"v":-0.09},{"c":12,"r":15,"v":-0.06},{"c":13,"r":15,"v":-0.03},{"c":14,"r":15,"v":-0.08},{"c":15,"r":15,"v":-0.06},{"c":16,"r":15,"v":-0.1},{"c":17,"r":15,"v":-0.05},{"c":18,"r":15,"v":-0.07},{"c":19,"r":15,"v":-0.09},{"c":20,"r":15,"v":-0.05},{"c":21,"r":15,"v":-0.08},{"c":22,"r":15,"v":-0.1},{"c":23,"r":15,"v":-0.06},{"c":24,"r":15,"v":-0.08},{"c":25,"r":15,"v":-0.05},{"c":26,"r":15,"v":-0.09},{"c":27,"r":15,"v":-0.07},{"c":28,"r":15,"v":-0.1},{"c":29,"r":15,"v":-0.06},{"c":30,"r":15,"v":-0.08},{"c":31,"r":15,"v":-0.1},{"c":32,"r":15,"v":-0.05},{"c":33,"r":15,"v":-0.09},{"c":34,"r":15,"v":-0.07},{"c":35,"r":15,"v":-0.11},{"c":36,"r":15,"v":-0.06},{"c":37,"r":15,"v":-0.08},{"c":38,"r":15,"v":-0.1},{"c":39,"r":15,"v":-0.07},{"c":40,"r":15,"v":-0.09},{"c":41,"r":15,"v":-0.11},{"c":42,"r":15,"v":-0.06},{"c":43,"r":15,"v":-0.08},{"c":44,"r":15,"v":-0.1},{"c":45,"r":15,"v":-0.07},{"c":46,"r":15,"v":-0.09},{"c":47,"r":15,"v":-0.08},{"c":48,"r":15,"v":-0.06}
]},
"vconcat":[
{"width":574.5,"height":512,"view":{"stroke":"#7f7f7f","strokeWidth":1.5},"data":{"name":"bars"},
"encoding":{
"x":{"field":"n","type":"quantitative","title":"Number of patients","scale":{"domain":[-132,2900],"nice":false,"zero":false,"padding":0},
"axis":{"values":[0,500,1000,1500,2000,2500],"labelExpr":"datum.value%1000==0?format(datum.value,'d'):''","labelFont":"Liberation Sans","labelFontWeight":"bold","labelFontSize":15.5,"labelColor":"#000","labelPadding":3,"labelFlush":false,"titleFont":"Liberation Sans","titleFontWeight":"normal","titleFontSize":19.8,"titleColor":"#000","titlePadding":2,"domain":false,"tickSize":3,"tickColor":{"condition":{"test":"datum.value%1000==0","value":"#333"},"value":"transparent"},"grid":true,"gridColor":{"condition":{"test":"datum.value%1000==0","value":"transparent"},"value":"#ececec"},"gridWidth":1}},
"y":{"field":"v","type":"quantitative","title":"IPSOV","scale":{"domain":[-2.05,1.357],"nice":false},
"axis":{"values":[-2,-1.5,-1,-0.5,0,0.5,1],"labelExpr":"datum.value%1==0?replace(format(datum.value,'d'),'-','−'):''","labelFont":"Liberation Sans","labelFontWeight":"bold","labelFontSize":15.5,"labelColor":"#000","labelPadding":3,"labelFlush":false,"titleFont":"Liberation Sans","titleFontWeight":"normal","titleFontSize":19.8,"titleColor":"#000","titlePadding":1,"domain":false,"tickSize":3,"tickColor":{"condition":{"test":"datum.value%1==0","value":"#333"},"value":"transparent"},"grid":true,"gridColor":{"condition":{"test":"datum.value%1==0","value":"transparent"},"value":"#ececec"},"gridWidth":1}}},
"layer":[
{"mark":{"type":"bar","size":2.3,"color":"#4408a8"}},
{"mark":{"type":"bar","size":2.3,"opacity":0.55},"encoding":{"color":{"field":"s","type":"nominal","scale":{"domain":["S","D"],"range":["#2400e4","#cc181c"]},
"legend":{"orient":"none","legendX":597,"legendY":230,"title":null,"padding":0,"symbolType":"square","symbolSize":1369,"symbolOpacity":1,"symbolStrokeWidth":0,"rowPadding":0,"labelFont":"Liberation Sans","labelFontSize":15.8,"labelColor":"#000","labelOffset":7,"labelExpr":"datum.value=='S'?'Survive':'Dead'","values":["S","D"]}}}}
]},
{"width":554,"height":210,"data":{"name":"heat"},
"mark":{"type":"rect","opacity":0.88,"strokeWidth":0},
"encoding":{
"x":{"field":"c","type":"ordinal","axis":null,"scale":{"range":[27,555],"paddingInner":0,"paddingOuter":0}},
"y":{"field":"r","type":"ordinal","title":null,"scale":{"paddingInner":0,"paddingOuter":0},"axis":{"orient":"right","domain":false,"ticks":false,"labelFont":"Liberation Sans","labelFontSize":10.7,"labelColor":"#222","labelPadding":3,"labelAngle":0,"labelAlign":"left","labelLimit":300,"labelExpr":"['Antigen_Processing_and_Presentation','Antimicrobials','BCRSignalingPathway','Chemokine_Receptors','Chemokines','Cytokine_Receptors','Cytokines','Interleukins','Interleukins_Receptor','NaturalKiller_Cell_Cytotoxicity','TCRsignalingPathway','TGFb_Family_Member','TGFb_Family_Member_Receptor','TNF_Family_Members','TNF_Family_Members_Receptors'][datum.value-1]"}},
"color":{"field":"v","type":"quantitative","scale":{"domain":[-0.567,0,0.487],"range":["#cc1a1c","#000000","#7cf22c"],"interpolate":"rgb","clamp":true},
"legend":{"orient":"none","legendX":-21,"legendY":30,"title":null,"padding":0,"direction":"vertical","gradientLength":158,"gradientThickness":10.5,"gradientStrokeWidth":0,"gradientOpacity":1,"values":[-0.4,-0.2,0,0.2,0.4],"labelFont":"Liberation Sans","labelFontSize":10.5,"labelColor":"#222","labelOffset":4,"labelExpr":"datum.value==0?'0':replace(format(datum.value,'.1f'),'-','−')"}}}
}
]}
